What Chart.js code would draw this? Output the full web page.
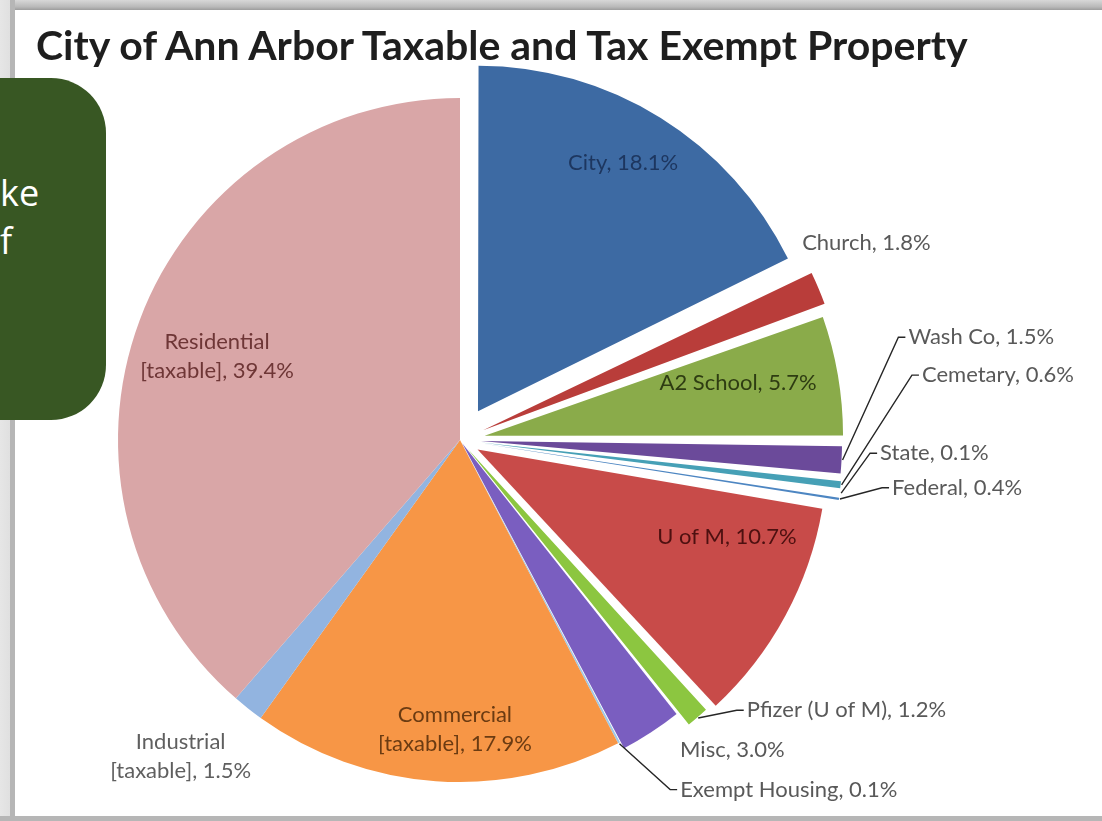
<!DOCTYPE html>
<html>
<head>
<meta charset="utf-8">
<script src="https://cdn.jsdelivr.net/npm/chart.js@4"></script>
<style>
  html, body { margin: 0; padding: 0; background: #fff; width: 1102px; height: 821px; overflow: hidden; }
  #pie { position: absolute; left: 0; top: 0; }
  .frame-top { position: absolute; left: 0; top: 0; width: 1102px; height: 10px; background: linear-gradient(#d8d8d8, #b8b8b8 70%, #9c9c9c); }
  .frame-left { position: absolute; left: 0; top: 0; width: 15px; height: 821px; background: linear-gradient(to right, #e6e6e6 0, #e0e0e0 10px, #b6b6b6 10px, #b6b6b6 15px); }
  .frame-bottom { position: absolute; left: 0; bottom: 0; width: 1102px; height: 5px; background: #b6b6b6; }
  .note { position: absolute; left: 0; top: 78px; width: 106px; height: 342px; background: #385723; border-radius: 0 55px 55px 0;
          color: #fff; font-family: 'Open Sans', sans-serif; font-size: 36px; line-height: 48px; padding-top: 91px; box-sizing: border-box; overflow: hidden; }
  h1 { position: absolute; left: 36px; top: 24px; margin: 0; font: bold 41px/41px Lato, sans-serif; color: #1e1e1e; white-space: nowrap; }
</style>
</head>
<body>
<canvas id="pie" width="1102" height="821"></canvas>
<div class="frame-top"></div>
<div class="frame-left"></div>
<div class="frame-bottom"></div>
<h1>City of Ann Arbor Taxable and Tax Exempt Property</h1>
<div class="note">ke<br>f</div>
<script>
// slices, clockwise from 12 o'clock
const categories = ['City', 'Church', 'A2 School', 'Wash Co', 'Cemetary', 'State', 'Federal', 'U of M',
  'Pfizer (U of M)', 'Misc', 'Exempt Housing', 'Commercial [taxable]', 'Industrial [taxable]', 'Residential [taxable]'];
const shares = [18.1, 1.8, 5.7, 1.5, 0.6, 0.1, 0.4, 10.7, 1.2, 3.0, 0.1, 17.9, 1.5, 39.4];

// styling (kept apart from the data)
const sliceColors = ['#3d6aa3', '#b93d3a', '#8aab4a', '#6b4a9a', '#46a0b6', '#a8d6e0', '#4d86c2', '#c84b49',
  '#8cc640', '#7a5ec0', '#9fc8e8', '#f79646', '#92b4e0', '#d9a6a7'];
const explodeBy = [136, 100, 100, 84, 84, 84, 84, 80, 48, 16, 0, 0, 0, 0];

// where each data label goes: angle (deg clockwise from top) and distance as a share of the radius
const labelPlacement = [
  { kind: 'in', angle: 30.5, rf: 0.94, color: '#1d365f' },
  { kind: 'out', angle: 60.1, rf: 1.154 },
  { kind: 'in', angle: 78.4, rf: 0.83, color: '#2e3c12' },
  { kind: 'lead', angle: 77.1, rf: 1.345 },
  { kind: 'lead', angle: 82.0, rf: 1.364 },
  { kind: 'lead', angle: 91.8, rf: 1.229 },
  { kind: 'lead', angle: 96.3, rf: 1.271 },
  { kind: 'in', angle: 109.9, rf: 0.83, color: '#4d1010' },
  { kind: 'lead', angle: 133.3, rf: 1.152 },
  { kind: 'out', angle: 144.6, rf: 1.111 },
  { kind: 'lead', angle: 147.8, rf: 1.208 },
  { kind: 'in', angle: 181, rf: 0.847, color: '#6b3b12' },
  { kind: 'in', angle: 221.4, rf: 1.235, color: '#5f5f5f' },
  { kind: 'in', angle: 288.9, rf: 0.751, color: '#6e3636' }
];

const labelFont = '22px Lato, sans-serif';
const lineGap = 29;

function labelLines(i) {
  const pct = shares[i].toFixed(1) + '%';
  const name = categories[i];
  if (name.endsWith(' [taxable]')) {
    return [name.replace(' [taxable]', ''), '[taxable], ' + pct];
  }
  return [name + ', ' + pct];
}

const pieLabels = {
  id: 'pieLabels',
  afterDatasetsDraw(chart) {
    const ctx = chart.ctx;
    const arcs = chart.getDatasetMeta(0).data;
    const cx = arcs[0].x, cy = arcs[0].y, r = arcs[0].outerRadius;
    ctx.save();
    ctx.font = labelFont;
    ctx.textBaseline = 'middle';
    arcs.forEach((arc, i) => {
      const p = labelPlacement[i];
      const a = p.angle * Math.PI / 180 - Math.PI / 2;
      const ax = cx + Math.cos(a) * r * p.rf;
      const ay = cy + Math.sin(a) * r * p.rf;
      const lines = labelLines(i);
      if (p.kind === 'in') {
        ctx.textAlign = 'center';
        ctx.fillStyle = p.color;
        lines.forEach((ln, k) => ctx.fillText(ln, ax, ay + (k - (lines.length - 1) / 2) * lineGap));
        return;
      }
      if (p.kind === 'lead') {
        // start the leader at the outer edge of the exploded slice
        const mid = (arc.startAngle + arc.endAngle) / 2;
        const t = (arc.options.offset || 0) / 4;
        const fix = 1 - Math.sin(Math.min(Math.PI, arc.endAngle - arc.startAngle));
        const rr = r + t + t * fix + 1;
        ctx.beginPath();
        ctx.moveTo(cx + Math.cos(mid) * rr, cy + Math.sin(mid) * rr);
        ctx.lineTo(ax - 10, ay);
        ctx.lineTo(ax - 3, ay);
        ctx.strokeStyle = '#262626';
        ctx.lineWidth = 1.4;
        ctx.stroke();
      }
      ctx.textAlign = 'left';
      ctx.fillStyle = '#595959';
      ctx.fillText(lines.join(' '), ax, ay);
    });
    ctx.restore();
  }
};

new Chart(document.getElementById('pie'), {
  type: 'pie',
  data: {
    labels: categories,
    datasets: [{
      data: shares,
      backgroundColor: sliceColors,
      offset: explodeBy,
      borderWidth: 0
    }]
  },
  options: {
    responsive: false,
    animation: false,
    radius: 342,
    layout: { padding: { left: 100, right: 282, top: 80, bottom: 21 } },
    plugins: {
      legend: { display: false },
      tooltip: { enabled: false },
      title: { display: false }
    }
  },
  plugins: [pieLabels]
});
</script>
</body>
</html>
